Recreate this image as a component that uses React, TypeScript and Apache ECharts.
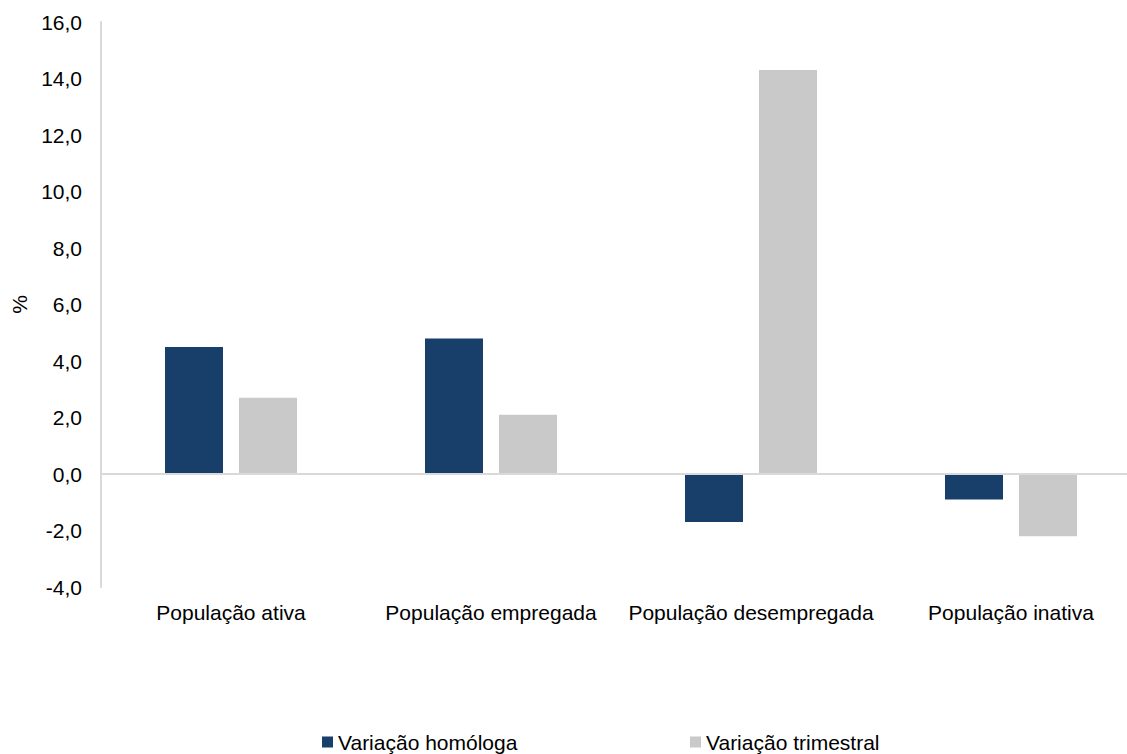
import React, { useEffect, useRef } from "react";
import * as echarts from "echarts";

const categories = ["População ativa", "População empregada", "População desempregada", "População inativa"];
const homologa = [4.5, 4.8, -1.7, -0.9];
const trimestral = [2.7, 2.1, 14.3, -2.2];
const seriesNames = ["Variação homóloga", "Variação trimestral"];

export default function App() {
  const ref = useRef<HTMLDivElement>(null);
  useEffect(() => {
    const chart = echarts.init(ref.current!, null, { renderer: "svg" });
    const font = "'Liberation Sans', Arial, sans-serif";
    const legendBase = {
      top: 731,
      padding: 0,
      itemWidth: 11,
      itemHeight: 11,
      icon: "rect",
      textStyle: { fontSize: 21, color: "#000", fontFamily: font, lineHeight: 22 },
    };
    chart.setOption({
      animation: false,
      textStyle: { fontFamily: font },
      grid: { left: 101, top: 22, height: 565, width: 1040, outerBoundsMode: "none", containLabel: false },
      legend: [
        { ...legendBase, left: 322, data: [seriesNames[0]] },
        { ...legendBase, left: 690, data: [seriesNames[1]] },
      ],
      xAxis: {
        type: "category",
        data: categories,
        axisLine: { show: false, onZero: false },
        axisTick: { show: false },
        axisLabel: { fontSize: 21, color: "#000", margin: 15, fontFamily: font, interval: 0 },
      },
      yAxis: {
        type: "value",
        min: -4,
        max: 16,
        interval: 2,
        name: "%",
        nameLocation: "middle",
        nameGap: 70,
        nameRotate: 90,
        nameTextStyle: { fontSize: 21, color: "#000", fontFamily: font },
        axisLine: { show: true, lineStyle: { color: "#d9d9d9", width: 2 } },
        axisTick: { show: false },
        splitLine: { show: false },
        axisLabel: {
          fontSize: 21,
          color: "#000",
          margin: 19,
          fontFamily: font,
          formatter: (v: number) => v.toFixed(1).replace(".", ","),
        },
      },
      series: [
        {
          name: seriesNames[0],
          type: "bar",
          data: homologa,
          barWidth: 58,
          barGap: "27.6%",
          itemStyle: { color: "#173F69" },
          markLine: {
            silent: true,
            symbol: "none",
            label: { show: false },
            lineStyle: { color: "#d9d9d9", width: 2, type: "solid" },
            data: [{ yAxis: 0 }],
          },
        },
        {
          name: seriesNames[1],
          type: "bar",
          data: trimestral,
          barWidth: 58,
          itemStyle: { color: "#C9C9C9" },
        },
      ],
    });
    return () => chart.dispose();
  }, []);
  return <div ref={ref} style={{ width: 1127, height: 754, position: "absolute", left: 0, top: 0 }} />;
}
